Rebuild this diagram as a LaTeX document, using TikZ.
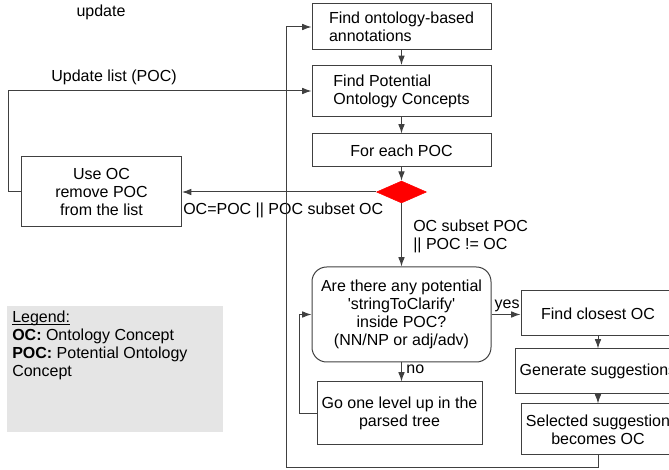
\documentclass[tikz,border=0pt]{standalone}
\usepackage{fontspec}
\setmainfont{Liberation Sans}
\usetikzlibrary{arrows.meta,calc,positioning,shapes.geometric}
\definecolor{linegray}{RGB}{64,64,64}
\definecolor{legendgray}{RGB}{229,229,229}
\tikzset{%
	block/.style    = {draw=linegray, rectangle, line width=0.75pt, minimum width=134.25pt, align=center}, % Process
	leftblock/.style = {block, align=left}, % Process, left text
	choice/.style   = {block, rounded corners=11pt, minimum height=71.25pt}, % Question
	branch/.style   = {diamond, draw=red, fill=red, inner sep=0pt, minimum width=37.5pt, minimum height=16.5pt}, % Decision
	note/.style     = {inner sep=0pt, align=left}, % Free text
	flow/.style     = {draw=linegray, line width=0.75pt, -{Latex[length=7pt,width=5pt]}}, % Arrow
	wire/.style     = {draw=linegray, line width=0.75pt}, % Plain line
	waypoint/.style = {coordinate}, % Corner
}

\begin{document}
\begin{tikzpicture}[x=0.75pt, y=-0.75pt, font=\fontsize{12}{13.5}\selectfont]
		\useasboundingbox (0,0) rectangle (669,470);
		% main column
		\node[leftblock, minimum height=34.5pt] (ann) at (401.5,27) {Find ontology-based\\annotations};
		\node[leftblock, minimum height=38.25pt] (poc) at (401.5,91) {Find Potential\\Ontology Concepts};
		\node[block, minimum height=24.75pt] (each) at (401.5,150.5) {For each POC};
		\node[branch] (dec) at (401.5,192) {};
		\node[block, minimum width=120pt, minimum height=52.5pt] (use) at (101.5,192) {Use OC\\remove POC\\from the list};
		\node[choice] (ask) at (401.5,314.5) {Are there any potential\\\textquotesingle stringToClarify\textquotesingle\\inside POC?\\(NN/NP or adj/adv)};
		\node[block, minimum width=123.75pt, minimum height=47.25pt] (up) at (399.5,413.5) {Go one level up in the\\parsed tree};
		% right column
		\node[block, minimum width=115.5pt, minimum height=33.75pt] (close) at (598,313.5) {Find closest OC};
		\node[block, minimum width=115.5pt, minimum height=33.75pt] (gen) at (598,371.5) {Generate suggestions};
		\node[block, minimum width=115.5pt, minimum height=38.25pt] (sel) at (598,429.5) {Selected suggestion\\becomes OC};
		% corners of the loops
		\node[waypoint] (updl) at (8,91) {};
		\node[waypoint] (loopbl) at (286,468) {};
		\node[waypoint] (uploop) at (299,413.5) {};
		% free texts
		\node[note] (upd) at (101,12) {update};
		\node[note] (updlist) at (114,77) {Update list (POC)};
		\node[note, anchor=west] (eq) at (183,210) {OC=POC || POC subset OC};
		\node[note, anchor=west] (sub) at (413,236) {OC subset POC\\|| POC != OC};
		% legend
		\fill[legendgray] (7,306) rectangle (223,432);
		\node[note, anchor=north west] (legend) at (12,311) {\underline{\vphantom{L}\smash{Legend:}}\\\textbf{OC:} Ontology Concept\\\textbf{POC:} Potential Ontology\\Concept};
		% arrows
		\draw[flow] (ann) -- (poc);
		\draw[flow] (poc) -- (each);
		\draw[flow] (each) -- (dec);
		\draw[flow] (dec.west) -- (use.east);
		\draw[flow] (use.west) -| (updl) -- (poc.west);
		\draw[flow] (dec.south) -- (ask.north);
		\draw[flow] (ask.south) -- node[right, pos=0.35] {no} (ask.south |- up.north);
		\draw[flow] (up.west) -- (uploop) |- (ask.west);
		\draw[flow] (ask.east) -- node[above right, pos=0, inner sep=2pt] {yes} (ask.east -| close.west);
		\draw[flow] (close) -- (gen);
		\draw[flow] (gen) -- (sel);
		\draw[flow] (sel.south) |- (loopbl) |- (ann.west);
\end{tikzpicture}
\end{document}
